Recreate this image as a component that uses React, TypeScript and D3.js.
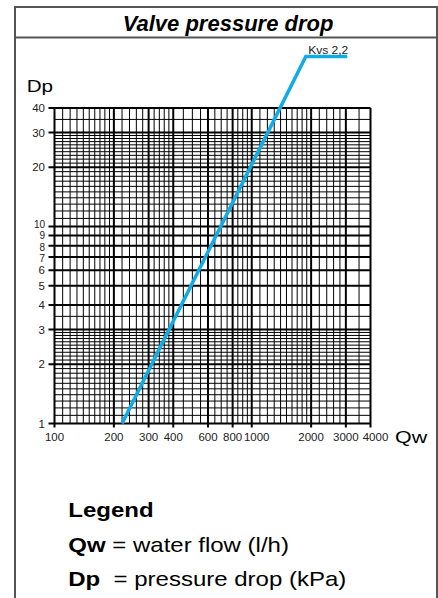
import React from "react";
import * as d3 from "d3";

// ---- data ----
const flowTicks = [100, 200, 300, 400, 600, 800, 1000, 2000, 3000, 4000];
const dpTicks = [1, 2, 3, 4, 5, 6, 7, 8, 9, 10, 20, 30, 40];
// grid segments: [from, to, step]
const flowGridSegments = [
  [100, 200, 10],
  [200, 400, 20],
  [400, 1000, 50],
  [1000, 2000, 100],
  [2000, 3000, 200],
  [3000, 4000, 500],
];
const dpGridSegments = [
  [1, 3, 0.1],
  [3, 4, 0.5],
  [4, 10, 1],
  [10, 30, 1],
  [30, 40, 5],
];
// Kvs 2,2 curve (flow l/h, pressure drop kPa)
const kvsFlow = [220, 1880, 3050];
const kvsDp = [1, 73, 73];
const kvsLabel = "Kvs 2,2";

const W = 438;
const H = 598;

function gridValues(segs: number[][]) {
  const out: number[] = [];
  segs.forEach(([a, b, s]) => {
    const n = Math.round((b - a) / s);
    for (let i = 0; i <= n; i++) out.push(+(a + i * s).toFixed(4));
  });
  return Array.from(new Set(out));
}

export default function App() {
  const x = d3.scaleLog().domain([100, 4000]).range([54.5, 370.5]);
  const y = d3.scaleLog().domain([1, 40]).range([423.5, 108]);
  const vx = gridValues(flowGridSegments);
  const vy = gridValues(dpGridSegments);
  const pts = kvsFlow.map((f, i) => [x(f), y(kvsDp[i])] as [number, number]);
  const line = d3.line()(pts) || "";
  const font = "'Liberation Sans', Arial, Helvetica, sans-serif";
  const thickX = new Set(flowTicks);
  const thickY = new Set(dpTicks);
  const labelOffset: Record<number, number> = { 1000: 5, 4000: 5 };
  const yLabelNudge: Record<number, number> = { 10: -2, 9: 0, 8: 1.5, 7: 1.5 };
  const yLabelSize: Record<number, number> = { 10: 10, 9: 10, 8: 10, 7: 10.5 };

  return (
    <svg
      width={W}
      height={H}
      style={{ position: "absolute", left: 0, top: 0 }}
      fontFamily={font}
    >
      <rect x={0} y={0} width={W} height={H} fill="#fff" />
      {/* frame */}
      <path
        d={`M15,${H + 10} L15,7 L437,7 L437,${H + 10}`}
        fill="none"
        stroke="#555"
        strokeWidth={2}
      />
      <line x1={15} x2={437} y1={37.5} y2={37.5} stroke="#555" strokeWidth={2} />
      <text
        x={228}
        y={30.5}
        textAnchor="middle"
        fontSize={22}
        fontWeight="bold"
        fontStyle="italic"
        fill="#000"
      >
        Valve pressure drop
      </text>

      {/* grid */}
      <g>
        {vx.map((v) => (
          <line
            key={"gx" + v}
            x1={x(v)}
            x2={x(v)}
            y1={y(40)}
            y2={y(1) + (thickX.has(v) ? 4 : 0)}
            stroke="#000"
            strokeWidth={thickX.has(v) ? 2 : 1}
          />
        ))}
        {vy.map((v) => (
          <line
            key={"gy" + v}
            y1={y(v)}
            y2={y(v)}
            x1={x(100) - (thickY.has(v) ? 6 : 0)}
            x2={x(4000)}
            stroke="#000"
            strokeWidth={thickY.has(v) ? 2 : 1}
          />
        ))}
      </g>

      {/* tick labels */}
      {flowTicks.map((v) => (
        <text
          key={"tx" + v}
          x={x(v) + (labelOffset[v] || 0)}
          y={441}
          textAnchor="middle"
          fontSize={11.5}
          fill="#222"
        >
          {v}
        </text>
      ))}
      {dpTicks.map((v) => (
        <text
          key={"ty" + v}
          x={45}
          y={y(v) + (yLabelNudge[v] || 0)}
          dy="0.36em"
          textAnchor="end"
          fontSize={yLabelSize[v] || 11.5}
          fill="#222"
        >
          {v}
        </text>
      ))}

      {/* axis titles */}
      <text transform="translate(26.7,92.3) scale(1.25,1)" fontSize={16.5} fill="#000">
        Dp
      </text>
      <text transform="translate(395,442.7) scale(1.3,1)" fontSize={16.5} fill="#000">
        Qw
      </text>

      {/* curve */}
      <path d={line} fill="none" stroke="#10ace6" strokeWidth={3.5} />
      <text
        transform={`translate(${x(kvsFlow[2]) + 1},54) scale(1.18,1)`}
        textAnchor="end"
        fontSize={10.2}
        fill="#222"
      >
        {kvsLabel}
      </text>

      {/* legend */}
      <text transform="translate(68.3,516.7) scale(1.2,1)" fontSize={20} fontWeight="bold" fill="#000">
        Legend
      </text>
      <text transform="translate(68.3,551.7) scale(1.2,1)" fontSize={20} fill="#000">
        <tspan fontWeight="bold">Qw</tspan>
        <tspan>{" = water flow (l/h)"}</tspan>
      </text>
      <text transform="translate(68.3,586) scale(1.2,1)" fontSize={20} fill="#000">
        <tspan fontWeight="bold">Dp</tspan>
        <tspan>{"\u00a0\u00a0= pressure drop (kPa)"}</tspan>
      </text>
    </svg>
  );
}
